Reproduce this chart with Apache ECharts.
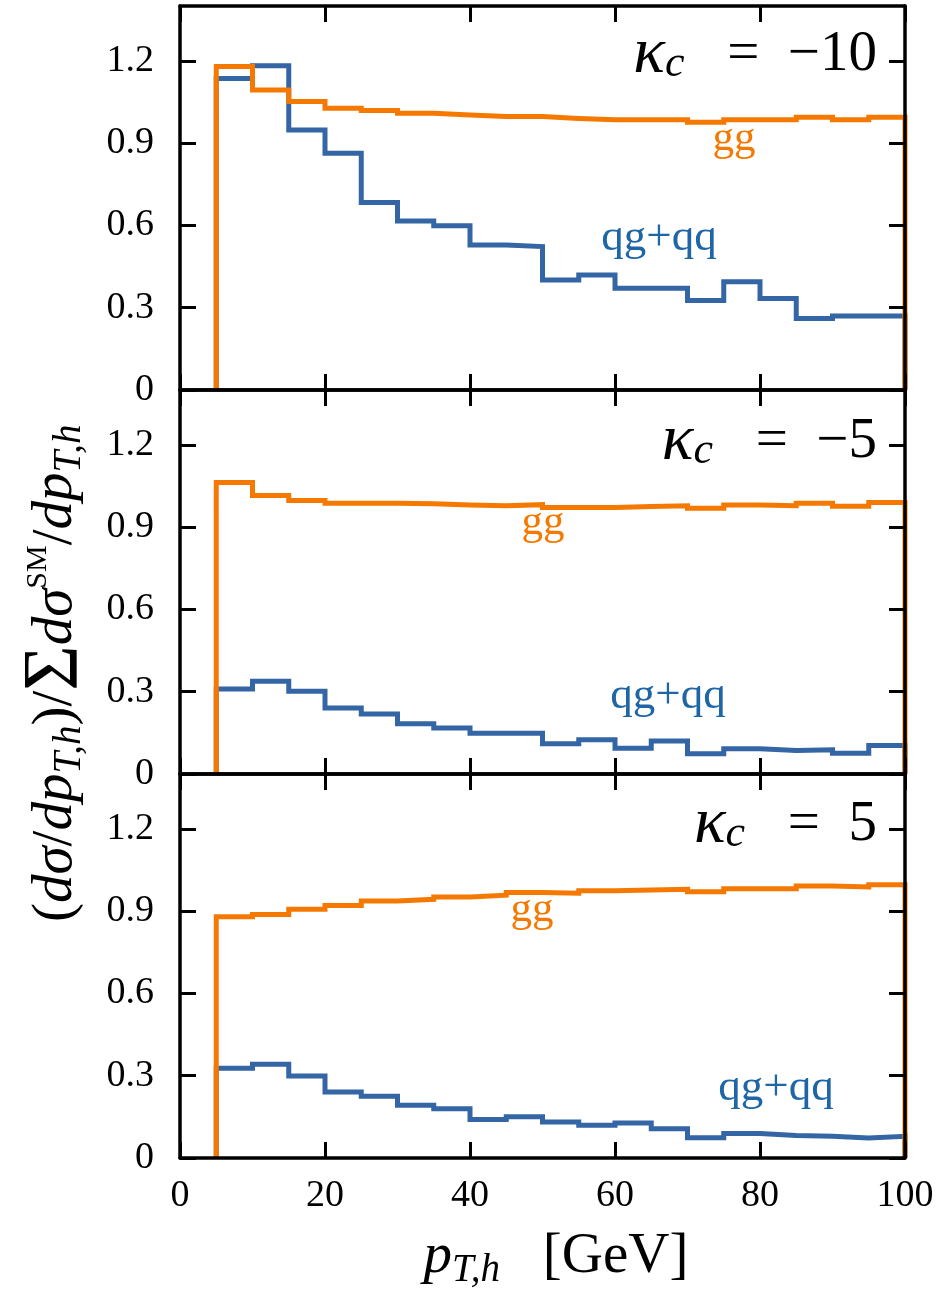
<!DOCTYPE html>
<html><head><meta charset="utf-8">
<script src="https://cdn.jsdelivr.net/npm/echarts@6/dist/echarts.min.js"></script>
<style>html,body{margin:0;padding:0;background:#fff}#c{width:946px;height:1291px}</style>
</head><body><div id="c"></div>
<script>
// ---- data ----
const binEdges = [5,10,15,20,25,30,35,40,45,50,55,60,65,70,75,80,85,90,95,100];
const kappaLabels = ['\u221210', '\u22125', '5'];
const xTicks = [0,20,40,60,80,100];
const xTickLabels = ['0','20','40','60','80','100'];
const yTicks = [0,0.3,0.6,0.9,1.2];
const yTickLabels = ['0','0.3','0.6','0.9','1.2'];
// kappa_c = -10
const ggKm10 = [1.179,1.094,1.052,1.027,1.019,1.009,1.003,0.997,0.997,0.990,0.985,0.985,0.985,0.976,0.985,0.985,0.994,0.985,0.994];
const qgKm10 = [1.136,1.182,0.948,0.863,0.684,0.616,0.599,0.529,0.523,0.401,0.419,0.371,0.371,0.326,0.395,0.334,0.261,0.270,0.270];
// kappa_c = -5
const ggKm5 = [1.063,1.015,0.997,0.987,0.987,0.985,0.981,0.978,0.982,0.972,0.972,0.975,0.978,0.969,0.981,0.978,0.987,0.976,0.990];
const qgKm5 = [0.310,0.338,0.302,0.241,0.219,0.183,0.168,0.149,0.149,0.110,0.125,0.094,0.120,0.074,0.092,0.086,0.088,0.076,0.104];
// kappa_c = 5
const ggK5 = [0.880,0.888,0.907,0.921,0.937,0.943,0.952,0.958,0.968,0.965,0.974,0.977,0.980,0.971,0.982,0.982,0.992,0.988,0.996];
const qgK5 = [0.327,0.342,0.299,0.241,0.225,0.192,0.180,0.140,0.150,0.131,0.119,0.128,0.107,0.074,0.089,0.082,0.079,0.073,0.079];

// ---- styles / layout ----
const FONT = "'Liberation Serif', 'DejaVu Serif', serif";
const BLUE = '#3465a4', ORANGE = '#f57900', BLUE_TXT = '#1e66a6';
const panels = [
  {gg: ggKm10, qg: qgKm10},
  {gg: ggKm5,  qg: qgKm5},
  {gg: ggK5,   qg: qgK5}
];

function stepData(vals) {
  const n = binEdges.length;
  const d = [[binEdges[0], 0]];
  vals.forEach((v, i) => d.push([binEdges[i], v]));
  d.push([binEdges[n - 1], vals[vals.length - 1]]);
  d.push([binEdges[n - 1], 0]);
  return d;
}

const grids = [], xAxes = [], yAxes = [], series = [];
panels.forEach((p, i) => {
  grids.push({left: 180, width: 725, top: 6 + i * 384, height: 384});
  const line = {show: true, onZero: false, lineStyle: {color: '#000', width: 3.5}};
  const tick = vals => ({show: true, inside: true, length: 16, customValues: vals, lineStyle: {color: '#000', width: 3}});
  const xFmt = v => { const k = xTicks.indexOf(v); return k >= 0 ? xTickLabels[k] : ''; };
  const yFmt = v => { const k = yTicks.findIndex(t => Math.abs(t - v) < 1e-6); return k >= 0 ? yTickLabels[k] : ''; };
  xAxes.push({type: 'value', gridIndex: i, position: 'bottom', min: 0, max: 100, interval: 20, z: 5,
    axisLine: line, axisTick: tick(xTicks), splitLine: {show: false},
    axisLabel: {show: i === 2, customValues: xTicks, formatter: xFmt, fontSize: 38, fontFamily: FONT, color: '#000', margin: 19}});
  xAxes.push({type: 'value', gridIndex: i, position: 'top', min: 0, max: 100, interval: 20, z: 5,
    axisLine: line, axisTick: tick(xTicks), splitLine: {show: false}, axisLabel: {show: false}});
  yAxes.push({type: 'value', gridIndex: i, position: 'left', min: 0, max: 1.4, interval: 0.3, z: 5,
    axisLine: line, axisTick: tick(yTicks), splitLine: {show: false},
    axisLabel: {customValues: yTicks, formatter: yFmt, fontSize: 38, fontFamily: FONT, color: '#000', margin: 26}});
  yAxes.push({type: 'value', gridIndex: i, position: 'right', min: 0, max: 1.4, interval: 0.3, z: 5,
    axisLine: line, axisTick: tick(yTicks), splitLine: {show: false}, axisLabel: {show: false}});
  const mk = (vals, color, name) => ({type: 'line', name, xAxisIndex: 2 * i, yAxisIndex: 2 * i,
    data: stepData(vals), step: 'end', symbol: 'none', showSymbol: false, silent: true, z: 2,
    lineStyle: {color, width: 5, join: 'miter', cap: 'butt'}, itemStyle: {color}});
  series.push(mk(p.qg, BLUE, 'qg+qq'));
  series.push(mk(p.gg, ORANGE, 'gg'));
});

// ---- annotations ----
const graphics = [];
function txt(x, y, text, opts) {
  graphics.push(Object.assign({type: 'text', x, y, silent: true, z: 10,
    style: Object.assign({text, fill: '#000', fontFamily: FONT, align: 'center', verticalAlign: 'middle'}, opts.style || {})},
    opts.extra || {}));
}
const ggPos = [[734, 152], [543, 536], [532, 923]];
const qgPos = [[659, 251], [668, 709], [776, 1101]];
const kBase = [73, 460, 843];
ggPos.forEach(([x, b]) => txt(x, b - 13, 'gg', {style: {fontSize: 43, fill: ORANGE}}));
qgPos.forEach(([x, b]) => txt(x, b - 13, 'qg+qq', {style: {fontSize: 45, fill: BLUE_TXT}}));
const kRich = {
  k: {fontSize: 66, fontStyle: 'italic', fontFamily: FONT, lineHeight: 62, fill: '#000'},
  s: {fontSize: 44, fontStyle: 'italic', fontFamily: FONT, lineHeight: 30, verticalAlign: 'bottom', fill: '#000'},
  r: {fontSize: 57, fontFamily: FONT, lineHeight: 62, fill: '#000'}
};
kBase.forEach((b, i) => txt(877, b - 18, '{k|\u03ba}{s|c}{r|   =  ' + kappaLabels[i] + '}', {style: {rich: kRich, align: 'right'}}));

const labRich = {
  r: {fontSize: 57, fontFamily: FONT, lineHeight: 66, fill: '#000'},
  i: {fontSize: 57, fontFamily: FONT, fontStyle: 'italic', lineHeight: 66, fill: '#000'},
  b: {fontSize: 78, fontFamily: FONT, lineHeight: 66, fill: '#000'},
  sub: {fontSize: 39, fontFamily: FONT, fontStyle: 'italic', lineHeight: 36, verticalAlign: 'bottom', fill: '#000'},
  sup: {fontSize: 30, fontFamily: FONT, lineHeight: 24, verticalAlign: 'top', fill: '#000'}
};
txt(556, 1257, '{i|p}{sub|T,h}{r|   [GeV]}', {style: {rich: labRich}});
txt(56, 922, '{r|(}{i|d\u03c3}{r|/}{i|dp}{sub|T,h}{r|)/}{b|\u03a3}{i|d\u03c3}{sup|SM}{r|/}{i|dp}{sub|T,h}',
  {style: {rich: labRich, align: 'left'}, extra: {rotation: Math.PI / 2}});

const chart = echarts.init(document.getElementById('c'));
chart.setOption({
  animation: false,
  backgroundColor: '#fff',
  grid: grids, xAxis: xAxes, yAxis: yAxes, series,
  graphic: graphics
});
</script></body></html>
